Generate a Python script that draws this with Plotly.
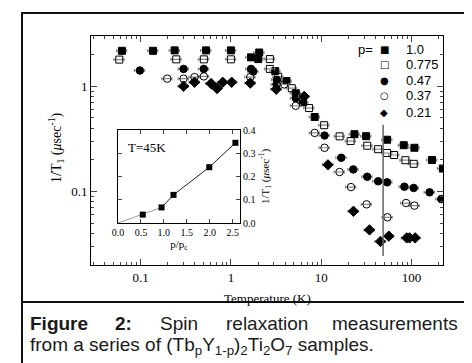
import plotly.graph_objects as go
import numpy as np

# ---------------- data ----------------
T_p100 = [0.062, 0.137, 0.238, 0.531, 1.0, 1.67, 2.06, 2.01, 3.10, 4.13, 5.23, 6.31, 8.48,
          23.4, 31.5, 53.8, 82.2, 108, 169, 223]
R_p100 = [2.17, 2.17, 2.19, 2.19, 2.19, 1.88, 2.09, 1.81, 1.39, 1.12, 0.859, 0.702, 0.510,
          0.350, 0.335, 0.310, 0.275, 0.260, 0.199, 0.165]

T_p0775 = [0.058, 0.248, 0.501, 1.0, 2.70, 2.70, 3.34, 4.73, 7.35, 10.8, 16.0, 21.2, 32.4,
           42.8, 53.8, 64.3, 85.7, 106]
R_p0775 = [1.79, 1.80, 1.80, 1.80, 1.81, 1.46, 1.23, 0.957, 0.620, 0.426, 0.334, 0.301, 0.272,
           0.252, 0.232, 0.222, 0.198, 0.183]

T_p047 = [0.098, 0.299, 0.501, 1.67, 1.77, 3.23, 3.2, 5.23, 10.9, 16.7, 22.7, 32.4, 42.8,
          53.8, 83.5, 106, 159, 214]
R_p047 = [1.41, 1.46, 1.46, 1.46, 1.38, 1.15, 1.04, 0.770, 0.340, 0.209, 0.162, 0.138, 0.125,
          0.122, 0.111, 0.108, 0.098, 0.0846]

T_p037 = [0.197, 0.299, 0.395, 0.501, 1.64, 3.89, 5.23, 8.48, 10.9, 16.0, 21.4, 31.9, 54.2,
          87.2, 108]
R_p037 = [1.18, 1.18, 1.22, 1.24, 1.22, 1.04, 0.652, 0.360, 0.260, 0.153, 0.110, 0.0754, 0.0568,
          0.0776, 0.0733]

T_p021 = [0.299, 0.395, 0.603, 0.703, 0.812, 1.02, 1.64, 3.18, 6.48, 11.9, 22.8, 34.3, 45.4,
          56.2, 88.7, 95.3, 110]
R_p021 = [1.0, 1.09, 1.06, 0.951, 1.09, 1.09, 1.07, 0.937, 0.800, 0.179, 0.0648, 0.0431, 0.0335,
          0.0376, 0.0362, 0.0362, 0.0362]

legend_labels = ["1.0", "0.775", "0.47", "0.37", "0.21"]
legend_glyphs = ["\u25A0", "\u25A1", "\u25CF", "\u25CB", "\u25C6"]

T_LINE = 48.6            # vertical marker line at T = 45 K
R_LINE = [0.0244, 0.43]

# inset: 1/T1 at T = 45K vs p/pc
inset_ppc = [0.54, 0.95, 1.21, 1.99, 2.56]
inset_rate = [0.036, 0.067, 0.121, 0.240, 0.345]
fit_lo_x = [0.0, 0.95]
fit_lo_y = [0.0, 0.067]
fit_hi_x = [0.95, 1.21, 1.99, 2.56]
fit_hi_y = [0.067, 0.121, 0.240, 0.345]

x_ticks = [0.1, 1, 10, 100]
x_ticktext = ["0.1", "1", "10", "100"]
y_ticks = [0.1, 1]
y_ticktext = ["0.1", "1"]
inset_xticks = [0.0, 0.5, 1.0, 1.5, 2.0, 2.5]
inset_yticks = [0.0, 0.1, 0.2, 0.3, 0.4]

caption_words = ["<b>Figure</b>", "<b>2:</b>", "Spin", "relaxation", "measurements"]
caption_line2 = ("from a series of (Tb<sub>p</sub>Y<sub>1-p</sub>)<sub>2</sub>"
                 "Ti<sub>2</sub>O<sub>7</sub> samples.")

# ---------------- figure ----------------
W, H = 472, 363
L, R, T, B = 83, 435, 28, 257   # main plot area in pixels
pw, ph = R - L, B - T

def px(x):
    return (x - L) / pw

def py(y):
    return (B - y) / ph

SERIF = "Liberation Serif, Times New Roman, serif"
SANS = "Liberation Sans, Arial, sans-serif"

fig = go.Figure()

err = dict(type="percent", value=13, color="#8a8a8a", thickness=1.2, width=1.5)

series = [
    (T_p100, R_p100, "square", 7),
    (T_p0775, R_p0775, "square-open", 7),
    (T_p047, R_p047, "circle", 7.5),
    (T_p037, R_p037, "circle-open", 7.5),
    (T_p021, R_p021, "diamond", 8),
]
for (tx, ry, sym, sz), lab in zip(series, legend_labels):
    fig.add_trace(go.Scatter(
        x=tx, y=ry, mode="markers", name=lab, showlegend=False,
        marker=dict(symbol=sym, size=sz, color="black", line=dict(color="black", width=1)),
        error_x=err, cliponaxis=True, xaxis="x", yaxis="y"))

# inset traces
fig.add_trace(go.Scatter(x=fit_lo_x, y=fit_lo_y, mode="lines", showlegend=False,
                         line=dict(color="#999999", width=1), xaxis="x2", yaxis="y2"))
fig.add_trace(go.Scatter(x=fit_hi_x, y=fit_hi_y, mode="lines", showlegend=False,
                         line=dict(color="#222222", width=1), xaxis="x2", yaxis="y2"))
fig.add_trace(go.Scatter(x=inset_ppc, y=inset_rate, mode="markers", showlegend=False,
                         marker=dict(symbol="square", size=6, color="black"),
                         xaxis="x2", yaxis="y2"))

minor_vals = [m * 10 ** d for d in range(-2, 3) for m in range(2, 10)]

fig.update_layout(
    width=W, height=H,
    margin=dict(l=L, r=W - R, t=T, b=H - B),
    paper_bgcolor="white", plot_bgcolor="white",
    font=dict(family=SERIF, size=13, color="black"),
    xaxis=dict(type="log", range=[-1.55, 2.35], tickvals=x_ticks, ticktext=x_ticktext,
               ticks="inside", ticklen=6, tickwidth=1, mirror="ticks",
               showline=True, linecolor="black", linewidth=1, showgrid=False, zeroline=False,
               tickfont=dict(family=SERIF, size=13),
               minor=dict(tickvals=minor_vals, ticks="inside", ticklen=3, showgrid=False)),
    yaxis=dict(type="log", range=[np.log10(0.02), np.log10(3.0)], tickvals=y_ticks,
               ticktext=y_ticktext,
               ticks="inside", ticklen=6, tickwidth=1, mirror="ticks",
               showline=True, linecolor="black", linewidth=1, showgrid=False, zeroline=False,
               tickfont=dict(family=SERIF, size=13),
               minor=dict(tickvals=minor_vals, ticks="inside", ticklen=3, showgrid=False)),
    xaxis2=dict(domain=[px(110), px(232)], anchor="y2", range=[0, 2.66],
                tickvals=inset_xticks, ticktext=["0.0", "0.5", "1.0", "1.5", "2.0", "2.5"],
                ticks="inside", ticklen=4, mirror="ticks", showline=True, linecolor="black",
                linewidth=1, showgrid=False, zeroline=False,
                tickfont=dict(family=SERIF, size=10),
                title=dict(text="p/p<sub>c</sub>", font=dict(family=SERIF, size=11), standoff=2)),
    yaxis2=dict(domain=[py(215), py(122)], anchor="x2", side="right", range=[0, 0.4],
                tickvals=inset_yticks, ticktext=["0.0", "0.1", "0.2", "0.3", "0.4"],
                ticks="inside", ticklen=4, mirror="ticks", showline=True, linecolor="black",
                linewidth=1, showgrid=False, zeroline=False,
                tickfont=dict(family=SERIF, size=10),
                title=dict(text="1/T<sub>1</sub> (<i>\u03bc</i>sec<sup>-1</sup>)",
                           font=dict(family=SERIF, size=11), standoff=6)),
)

shapes = []
# vertical line at 45K
shapes.append(dict(type="line", xref="x", yref="y", x0=T_LINE, x1=T_LINE,
                   y0=R_LINE[0], y1=R_LINE[1], line=dict(color="#666666", width=1.5)))
# inset background
shapes.append(dict(type="rect", xref="paper", yref="paper", x0=px(110), x1=px(232),
                   y0=py(215), y1=py(122), fillcolor="white", line=dict(width=0),
                   layer="below"))
# outer frame and separator
shapes.append(dict(type="rect", xref="paper", yref="paper", x0=px(14), x1=px(464),
                   y0=py(358), y1=py(5), line=dict(color="#111111", width=2)))
shapes.append(dict(type="line", xref="paper", yref="paper", x0=px(14), x1=px(464),
                   y0=py(294), y1=py(294), line=dict(color="#111111", width=2)))
fig.update_layout(shapes=shapes)

ann = []
# axis titles
ann.append(dict(text="1/T<sub>1</sub> (<i>\u03bc</i>sec<sup>-1</sup>)", xref="paper", yref="paper",
                x=px(48), y=py(140), textangle=-90, showarrow=False,
                font=dict(family=SERIF, size=14), xanchor="center", yanchor="middle"))
ann.append(dict(text="Temperature (K)", xref="paper", yref="paper", x=px(259), y=py(290),
                showarrow=False, font=dict(family=SERIF, size=13),
                xanchor="center", yanchor="middle"))
# inset annotation
ann.append(dict(text="T=45K", xref="paper", yref="paper", x=px(118), y=py(139),
                showarrow=False, font=dict(family=SERIF, size=13),
                xanchor="left", yanchor="middle"))
# legend
ann.append(dict(text="p=", xref="paper", yref="paper", x=px(357), y=py(41),
                showarrow=False, font=dict(family=SANS, size=13),
                xanchor="center", yanchor="middle"))
rows = [41, 56.5, 72, 88, 104]
for g, lab, yy in zip(legend_glyphs, legend_labels, rows):
    ann.append(dict(text=g, xref="paper", yref="paper", x=px(376), y=py(yy),
                    showarrow=False, font=dict(family="DejaVu Sans", size=10),
                    xanchor="center", yanchor="middle"))
    ann.append(dict(text=lab, xref="paper", yref="paper", x=px(396), y=py(yy),
                    showarrow=False, font=dict(family=SANS, size=13),
                    xanchor="left", yanchor="middle"))
# caption (justified first line: equal stretched gaps)
CAP = dict(family=SANS, size=19, color="#1a1a1a")
cap_x = [20, 105, 150, 216, 452]
cap_anchor = ["left", "left", "left", "left", "right"]
for wd, xx, an in zip(caption_words, cap_x, cap_anchor):
    ann.append(dict(text=wd, xref="paper", yref="paper", x=px(xx), y=py(315),
                    showarrow=False, font=CAP, xanchor=an, yanchor="middle"))
ann.append(dict(text=caption_line2, xref="paper", yref="paper", x=px(20), y=py(338),
                showarrow=False, font=CAP, xanchor="left", yanchor="middle"))
fig.update_layout(annotations=ann)

fig.write_html("out.html")
